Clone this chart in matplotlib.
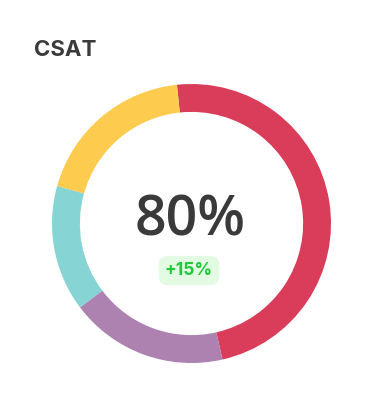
import matplotlib
matplotlib.use("Agg")
import matplotlib.pyplot as plt

# segment shares (clockwise from the top)
segments = ["Very satisfied", "Satisfied", "Neutral", "Unsatisfied"]
shares = [48.1, 18.3, 14.6, 19.0]
colors = ["#D93D5A", "#AD82B0", "#86D4D4", "#FDCB4E"]

title = "CSAT"
score = "80%"
delta = "+15%"

W, H = 382, 416
fig = plt.figure(figsize=(W / 100, H / 100), dpi=100)
fig.patch.set_facecolor("white")

# ring: center (191.5, 223.5) px, outer radius ~139.5 px
cx, cy, r = 191.5, 223.5, 139.5
ax = fig.add_axes([(cx - r) / W, (H - cy - r) / H, 2 * r / W, 2 * r / H])
ax.pie(shares, colors=colors, startangle=96, counterclock=False, radius=1,
       wedgeprops=dict(width=0.2, edgecolor="none"))
ax.set_xlim(-1, 1)
ax.set_ylim(-1, 1)
ax.set_aspect("equal")
ax.axis("off")

fig.text(34 / W, 1 - 50 / H, title, fontsize=16, fontweight="bold",
         color="#3b3b3b", family=["Inter", "DejaVu Sans"], ha="left", va="center")

fig.text(190 / W, 1 - 222 / H, score, fontsize=40, fontweight="semibold",
         color="#3a3a3a", family=["Open Sans", "DejaVu Sans"], ha="center", va="center")

fig.text(189 / W, 1 - 270.5 / H, delta, fontsize=12.5, fontweight="bold",
         color="#1FC93A", family=["Inter", "DejaVu Sans"], ha="center", va="center",
         bbox=dict(boxstyle="round,pad=0.35,rounding_size=0.5",
                   facecolor="#E2FBE2", edgecolor="none"))

fig.savefig("out.png", dpi=100, facecolor="white")
